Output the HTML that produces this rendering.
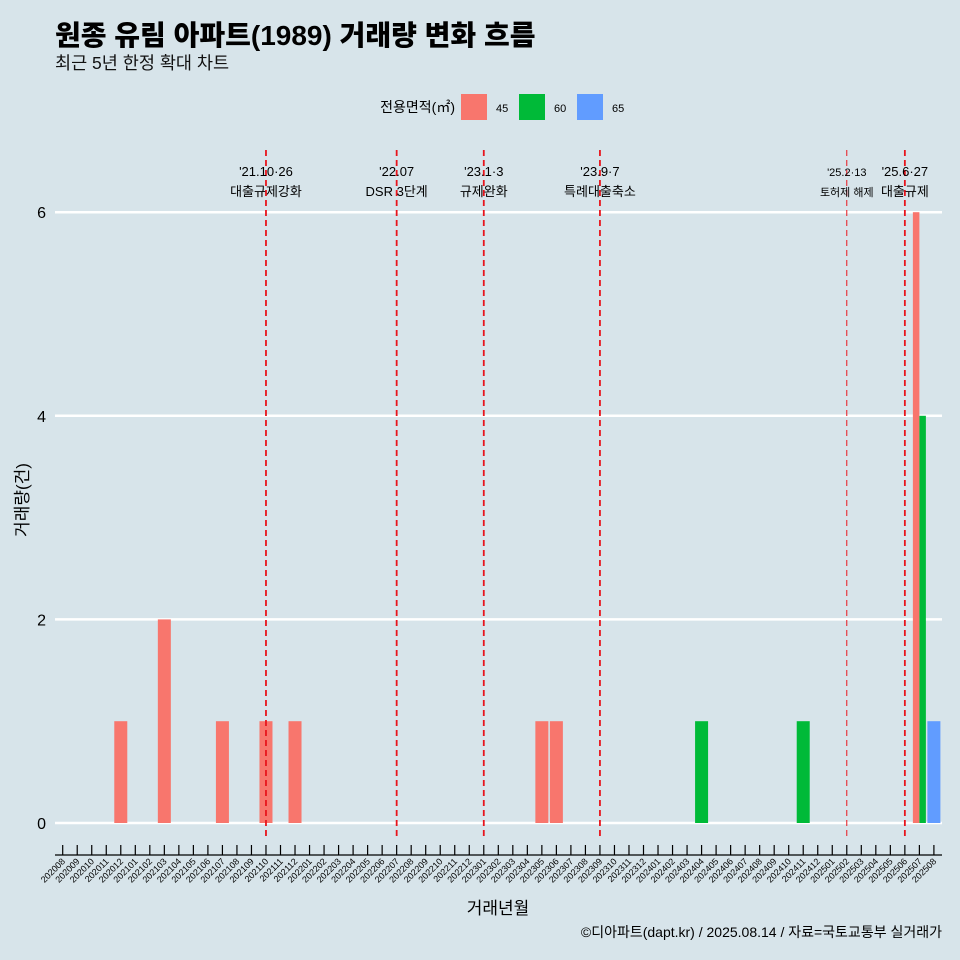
<!DOCTYPE html>
<html><head><meta charset="utf-8"><style>
html,body{margin:0;background:#d7e4ea;overflow:hidden;width:960px;height:960px;}
svg{display:block;}
svg text{font-family:"Liberation Sans","Noto Sans CJK KR",sans-serif;}
</style></head><body>
<svg width="960" height="960" xmlns="http://www.w3.org/2000/svg">
<rect width="960" height="960" fill="#d7e4ea"/>
<text x="55" y="45" font-size="28" font-weight="900" fill="#000">원종 유림 아파트(1989) 거래량 변화 흐름</text>
<text x="55" y="69" font-size="17.5" fill="#111">최근 5년 한정 확대 차트</text>
<g>
<text x="455" y="112" font-size="14" text-anchor="end">전용면적(㎡)</text>
<rect x="461" y="94" width="26" height="26" fill="#f8766d"/>
<text x="496" y="112" font-size="11">45</text>
<rect x="519" y="94" width="26" height="26" fill="#00ba38"/>
<text x="554" y="112" font-size="11">60</text>
<rect x="577" y="94" width="26" height="26" fill="#619cff"/>
<text x="612" y="112" font-size="11">65</text>
</g>
<g id="grid"></g><g id="bars"></g><g id="vlines"></g><g id="axes"></g>
<text x="28" y="500" font-size="17" text-anchor="middle" transform="rotate(-90 28 500)">거래량(건)</text>
<text x="498" y="914" font-size="17" text-anchor="middle">거래년월</text>
<text x="942" y="937" font-size="14" text-anchor="end">©디아파트(dapt.kr) / 2025.08.14 / 자료=국토교통부 실거래가</text>
</svg>
<script>
const categories=[];for(let y=2020,m=8;y*100+m<=202508;){categories.push(String(y*100+m));m++;if(m>12){m=1;y++;}}
const series45={"202012":1,"202103":2,"202107":1,"202110":1,"202112":1,"202305":1,"202306":1,"202507":6};
const series60={"202404":1,"202411":1,"202507":4};
const series65={"202508":1};
const yTicks=[0,2,4,6];
const eventMonths=["202110","202207","202301","202309","202502","202506"];
const eventLine1=["'21.10·26","'22.07","'23.1·3","'23.9·7","'25.2·13","'25.6·27"];
const eventLine2=["대출규제강화","DSR 3단계","규제완화","특례대출축소","토허제 해제","대출규제"];
const NS="http://www.w3.org/2000/svg";
function el(t,a,p){const e=document.createElementNS(NS,t);for(const k in a)e.setAttribute(k,a[k]);p.appendChild(e);return e;}
const x=c=>62.7+categories.indexOf(c)*14.52;
const y=v=>823-v*101.8;
const grid=document.getElementById('grid'),bars=document.getElementById('bars'),vl=document.getElementById('vlines'),ax=document.getElementById('axes');
yTicks.forEach(t=>{
 const l=el('line',{x1:55,x2:942,y1:y(t),y2:y(t),stroke:'#fff','stroke-width':2.5},grid);
 
 
 const tx=el('text',{x:46,y:y(t)+6,'font-size':16,'text-anchor':'end'},grid);tx.textContent=t;
 
 
});
const ser=[[series45,'#f8766d','45'],[series60,'#00ba38','60'],[series65,'#619cff','65']];
categories.forEach(c=>{
 const present=ser.filter(s=>s[0][c]);
 const w=13/present.length;
 present.forEach((s,i)=>{
  const v=s[0][c];
  const r=el('rect',{x:x(c)-6.5+i*w,y:y(v),width:w,height:y(0)-y(v),fill:s[1]},bars);
  
  
 });
});
eventMonths.forEach((m,i)=>{
 const thin=m==="202502";
 const l=el('line',{x1:x(m),x2:x(m),y1:150,y2:840,stroke:'#e8141c','stroke-width':thin?1:1.8,'stroke-dasharray':'6 4'},vl);
 
 
 const small=thin?11:13;
 const t1=el('text',{x:x(m),y:176,'font-size':small,'text-anchor':'middle'},vl);t1.textContent=eventLine1[i];
 
 
 const t2=el('text',{x:x(m),y:196,'font-size':small,'text-anchor':'middle'},vl);t2.textContent=eventLine2[i];
 
 
});
const al=el('line',{x1:55,x2:942,y1:855,y2:855,stroke:'#000','stroke-width':1.2},ax);


categories.forEach(c=>{
 const t=el('line',{x1:x(c),x2:x(c),y1:845,y2:855,stroke:'#000','stroke-width':1.2},ax);
 
 
 const tx=el('text',{x:x(c)+3,y:862,'font-size':9,'text-anchor':'end',transform:`rotate(-45 ${x(c)+3} 862)`},ax);tx.textContent=c;
 
 
});
</script>
</body></html>
